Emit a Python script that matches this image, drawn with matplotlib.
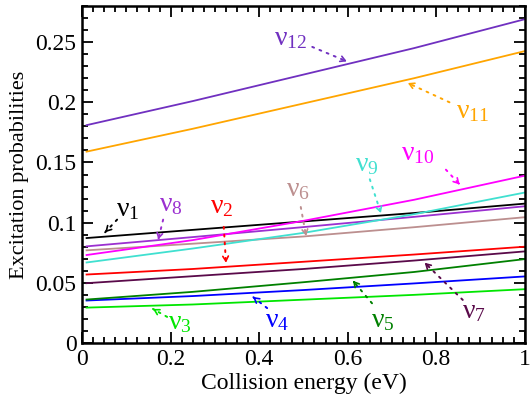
import matplotlib
matplotlib.use("Agg")
import matplotlib.pyplot as plt
from matplotlib.ticker import MultipleLocator

plt.rcParams['font.family'] = ['Liberation Serif', 'DejaVu Serif']
plt.rcParams['mathtext.fontset'] = 'custom'
plt.rcParams['mathtext.rm'] = 'Liberation Serif'

energy = [0.01, 0.25, 0.5, 0.75, 1.0]

nu1 = [0.0872, 0.094, 0.101, 0.108, 0.1158]
nu2 = [0.0569, 0.0615, 0.0675, 0.0735, 0.080]
nu3 = [0.0294, 0.032, 0.036, 0.040, 0.0447]
nu4 = [0.0353, 0.039, 0.044, 0.0495, 0.0553]
nu5 = [0.0361, 0.0425, 0.0505, 0.059, 0.0697]
nu6 = [0.077, 0.0825, 0.0885, 0.0962, 0.1045]
nu7 = [0.0497, 0.0555, 0.0615, 0.0685, 0.0761]
nu8 = [0.0803, 0.088, 0.0963, 0.1048, 0.1136]
nu9 = [0.0669, 0.0785, 0.0915, 0.107, 0.125]
nu10 = [0.0731, 0.0855, 0.1015, 0.119, 0.139]
nu11 = [0.159, 0.178, 0.199, 0.220, 0.2425]
nu12 = [0.181, 0.201, 0.223, 0.245, 0.269]

series = [
    ("1", nu1, "#000000", (0.104, 0.111), (0.079, 0.1025), (0.052, 0.092)),
    ("2", nu2, "#ff0000", (0.316, 0.113), (0.320, 0.0965), (0.325, 0.0667)),
    ("3", nu3, "#00e600", (0.221, 0.0167), (0.192, 0.0217), (0.160, 0.0283)),
    ("4", nu4, "#0000ff", (0.440, 0.019), (0.418, 0.029), (0.386, 0.0383)),
    ("5", nu5, "#008000", (0.680, 0.019), (0.655, 0.033), (0.612, 0.0517)),
    ("6", nu6, "#bc8f8f", (0.488, 0.1275), (0.494, 0.113), (0.506, 0.089)),
    ("7", nu7, "#5a0a4a", (0.885, 0.026), (0.860, 0.0358), (0.774, 0.0667)),
    ("8", nu8, "#9b30d0", (0.200, 0.115), (0.183, 0.1025), (0.172, 0.086)),
    ("9", nu9, "#40e0d0", (0.643, 0.148), (0.650, 0.136), (0.675, 0.108)),
    ("10", nu10, "#ff00ff", (0.758, 0.157), (0.822, 0.144), (0.853, 0.1317)),
    ("11", nu11, "#ffa500", (0.883, 0.1925), (0.830, 0.200), (0.736, 0.216)),
    ("12", nu12, "#7030c0", (0.470, 0.2525), (0.520, 0.246), (0.598, 0.234)),
]

fig = plt.figure(figsize=(5.3, 4.0), dpi=100)
ax = fig.add_axes([0.155, 0.1425, 0.835, 0.8425])

for name, vals, col, lpos, astart, aend in series:
    ax.plot(energy, vals, color=col, lw=1.3)
    ax.text(lpos[0], lpos[1], r"$\mathregular{ν_{%s}}$" % name, color=col,
            fontsize=20, ha='center', va='center')
    # dotted shaft
    ax.annotate("", xy=aend, xytext=astart,
                arrowprops=dict(arrowstyle='-', color=col, lw=1.4,
                                linestyle=(0, (1, 3)), shrinkA=0, shrinkB=0))
    # solid head at the end
    hx = aend[0] - 0.08 * (aend[0] - astart[0])
    hy = aend[1] - 0.08 * (aend[1] - astart[1])
    ax.annotate("", xy=aend, xytext=(hx, hy),
                arrowprops=dict(arrowstyle='->,head_length=0.35,head_width=0.2',
                                color=col, lw=1.2, shrinkA=0, shrinkB=0))

ax.set_xlim(0, 1)
ax.set_ylim(0, 0.28)
ax.xaxis.set_minor_locator(MultipleLocator(0.025))
ax.yaxis.set_minor_locator(MultipleLocator(0.01))
ax.set_xticks([0, 0.2, 0.4, 0.6, 0.8, 1.0])
ax.set_xticklabels(["0", "0.2", "0.4", "0.6", "0.8", "1"])
ax.set_yticks([0, 0.05, 0.1, 0.15, 0.2, 0.25])
ax.set_yticklabels(["0", "0.05", "0.1", "0.15", "0.2", "0.25"])
ax.tick_params(which='both', direction='in', top=True, right=True, labelsize=17, width=1.3)
ax.tick_params(which='major', length=8, pad=4)
ax.tick_params(which='minor', length=4)
for s in ax.spines.values():
    s.set_linewidth(1.8)

ax.set_xlabel("Collision energy (eV)", fontsize=17, labelpad=2)
ax.set_ylabel("Excitation probabilities", fontsize=16, labelpad=5)

fig.savefig("out.png", dpi=100)
